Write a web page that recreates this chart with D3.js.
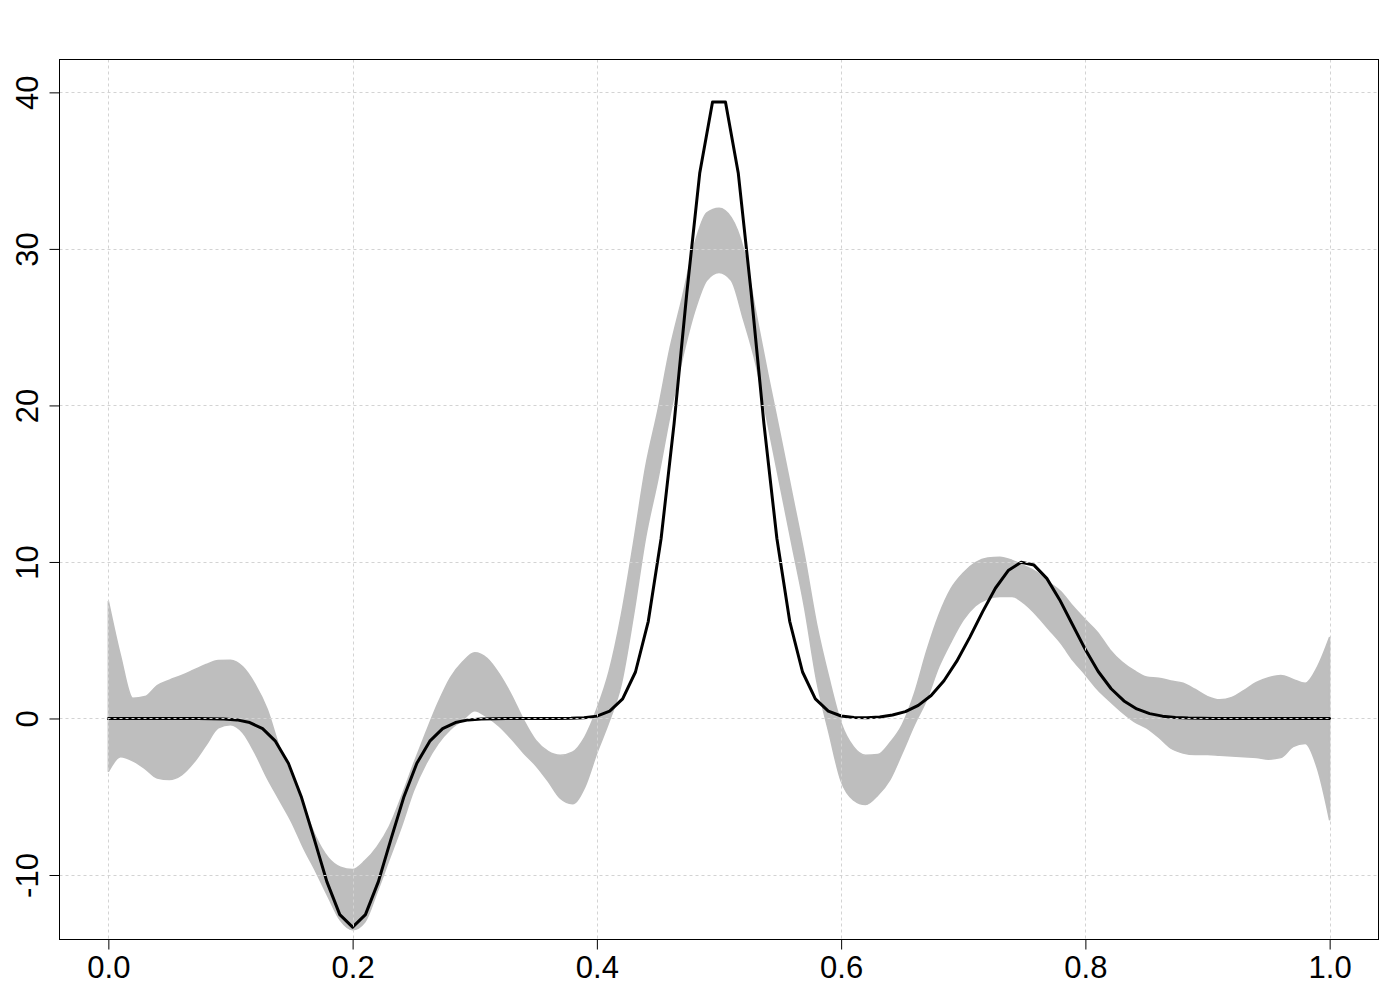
<!DOCTYPE html>
<html>
<head>
<meta charset="utf-8">
<script src="https://cdn.jsdelivr.net/npm/d3@7"></script>
<style>
  html, body { margin: 0; padding: 0; background: #fff; }
  svg { display: block; }
  text { font-family: "Liberation Sans", Arial, sans-serif; }
</style>
</head>
<body>
<svg id="chart" width="1400" height="1000"></svg>
<script>
// ---- Data ----
// true function, sampled at 96 points
const trueX = [0,0.0105,0.0211,0.0316,0.0421,0.0526,0.0632,0.0737,0.0842,0.0947,
  0.1053,0.1158,0.1263,0.1368,0.1474,0.1579,0.1684,0.1789,0.1895,0.2,
  0.2105,0.2211,0.2316,0.2421,0.2526,0.2632,0.2737,0.2842,0.2947,0.3053,
  0.3158,0.3263,0.3368,0.3474,0.3579,0.3684,0.3789,0.3895,0.4,0.4105,
  0.4211,0.4316,0.4421,0.4526,0.4632,0.4737,0.4842,0.4947,0.5053,0.5158,
  0.5263,0.5368,0.5474,0.5579,0.5684,0.5789,0.5895,0.6,0.6105,0.6211,
  0.6316,0.6421,0.6526,0.6632,0.6737,0.6842,0.6947,0.7053,0.7158,0.7263,
  0.7368,0.7474,0.7579,0.7684,0.7789,0.7895,0.8,0.8105,0.8211,0.8316,
  0.8421,0.8526,0.8632,0.8737,0.8842,0.8947,0.9053,0.9158,0.9263,0.9368,
  0.9474,0.9579,0.9684,0.9789,0.9895,1];
const trueY = [0,0,0,0,0,0,0,0,-0.01,-0.03,
  -0.09,-0.26,-0.65,-1.45,-2.86,-4.98,-7.66,-10.42,-12.53,-13.33,
  -12.53,-10.42,-7.66,-4.98,-2.86,-1.45,-0.65,-0.26,-0.09,-0.03,
  -0.01,0,0,0,0,0,0.01,0.05,0.15,0.47,
  1.25,2.97,6.21,11.50,18.82,27.23,34.83,39.39,39.39,34.83,
  27.23,18.82,11.50,6.21,2.97,1.25,0.47,0.16,0.06,0.05,
  0.10,0.22,0.44,0.84,1.47,2.41,3.66,5.18,6.81,8.32,
  9.45,9.98,9.80,8.95,7.59,5.99,4.40,3.00,1.90,1.12,
  0.61,0.31,0.15,0.07,0.03,0.01,0,0,0,0,
  0,0,0,0,0,0];

// envelope of the simulated estimates (grey curves)
const bandX = [0,0.01,0.02,0.03,0.04,0.05,0.06,0.07,0.08,0.09,
  0.10,0.11,0.12,0.13,0.14,0.15,0.16,0.17,0.18,0.19,
  0.20,0.21,0.22,0.23,0.24,0.25,0.26,0.27,0.28,0.29,
  0.30,0.31,0.32,0.33,0.34,0.35,0.36,0.37,0.38,0.39,
  0.40,0.41,0.42,0.43,0.44,0.45,0.46,0.47,0.48,0.49,
  0.50,0.51,0.52,0.53,0.54,0.55,0.56,0.57,0.58,0.59,
  0.60,0.61,0.62,0.63,0.64,0.65,0.66,0.67,0.68,0.69,
  0.70,0.71,0.72,0.73,0.74,0.75,0.76,0.77,0.78,0.79,
  0.80,0.81,0.82,0.83,0.84,0.85,0.86,0.87,0.88,0.89,
  0.90,0.91,0.92,0.93,0.94,0.95,0.96,0.97,0.98,0.99,1.00];
const bandHi = [7.5,4.0,1.3,1.4,2.1,2.45,2.75,3.1,3.45,3.7,
  3.72,3.3,2.2,0.6,-1.8,-3.7,-5.6,-7.6,-8.9,-9.5,
  -9.65,-9.1,-8.2,-6.9,-5.0,-2.9,-0.9,1.0,2.6,3.6,
  4.2,3.85,2.85,1.5,-0.1,-1.4,-2.1,-2.35,-2.15,-1.2,
  0.6,3.0,6.6,11.2,16.1,19.7,23.7,26.9,30.3,32.3,
  32.6,32.0,30.0,26.0,22.0,18.2,14.3,10.4,6.0,2.6,
  -0.3,-1.8,-2.35,-2.3,-1.55,-0.4,1.6,4.3,6.6,8.3,
  9.3,9.95,10.25,10.3,10.1,9.75,9.35,8.7,8.1,7.15,
  6.3,5.5,4.4,3.6,3.05,2.65,2.57,2.4,2.25,1.85,
  1.4,1.2,1.35,1.8,2.3,2.6,2.75,2.5,2.25,3.3,5.2];
const bandLo = [-3.4,-2.45,-2.7,-3.2,-3.8,-3.9,-3.6,-2.8,-1.7,-0.6,
  -0.4,-0.9,-2.2,-3.8,-5.2,-6.6,-8.3,-9.8,-11.4,-12.9,
  -13.5,-13.0,-11.1,-9.0,-6.9,-4.6,-2.9,-1.6,-0.7,-0.1,
  0.5,0.1,-0.5,-1.3,-2.2,-3.0,-4.0,-5.1,-5.45,-4.4,
  -2.2,-0.2,2.2,6.6,11.6,15.3,19.4,23.0,26.0,28.0,
  28.5,28.0,25.5,22.7,18.8,14.9,11.0,7.1,2.4,-0.9,
  -4.0,-5.2,-5.5,-4.9,-3.9,-2.2,-0.4,1.2,3.3,4.9,
  6.3,7.2,7.65,7.8,7.8,7.35,6.6,5.7,4.8,3.7,
  2.8,1.85,1.1,0.4,-0.2,-0.6,-1.2,-1.9,-2.2,-2.3,
  -2.3,-2.35,-2.4,-2.45,-2.5,-2.6,-2.5,-1.8,-1.6,-3.2,-6.5];

const xTicks = [0, 0.2, 0.4, 0.6, 0.8, 1.0];
const xTickLabels = ["0.0", "0.2", "0.4", "0.6", "0.8", "1.0"];
const yTicks = [-10, 0, 10, 20, 30, 40];
const yTickLabels = ["-10", "0", "10", "20", "30", "40"];

// ---- Layout ----
const svg = d3.select("#chart");
const pL = 59.5, pR = 1378.5, pT = 59.5, pB = 939.5;
const x = d3.scaleLinear().domain([-0.04, 1.04]).range([pL, pR]);
const y = d3.scaleLinear().domain([-14.12, 42.1]).range([pB, pT]);

const band = bandX.map((v, i) => ({ x: v, lo: bandLo[i], hi: bandHi[i] }));
const truth = trueX.map((v, i) => ({ x: v, y: trueY[i] }));

// grey band
svg.append("path")
  .datum(band)
  .attr("d", d3.area().x(d => x(d.x)).y0(d => y(d.lo)).y1(d => y(d.hi)).curve(d3.curveMonotoneX))
  .attr("fill", "#BEBEBE")
  .attr("stroke", "#BEBEBE")
  .attr("stroke-width", 1.5);

// true curve
svg.append("path")
  .datum(truth)
  .attr("d", d3.line().x(d => x(d.x)).y(d => y(d.y)))
  .attr("fill", "none")
  .attr("stroke", "#000")
  .attr("stroke-width", 3)
  .attr("stroke-linejoin", "round")
  .attr("stroke-linecap", "round");

// grid (drawn on top)
const grid = svg.append("g");
grid.selectAll("line.v").data(xTicks).join("line")
  .attr("class", "v")
  .attr("x1", d => Math.round(x(d)) + 0.5).attr("x2", d => Math.round(x(d)) + 0.5)
  .attr("y1", pT).attr("y2", pB)
  .attr("stroke", "#D3D3D3").attr("stroke-width", 1).attr("stroke-dasharray", "3,3");
grid.selectAll("line.h").data(yTicks).join("line")
  .attr("class", "h")
  .attr("y1", d => Math.round(y(d)) + 0.5).attr("y2", d => Math.round(y(d)) + 0.5)
  .attr("x1", pL).attr("x2", pR)
  .attr("stroke", "#D3D3D3").attr("stroke-width", 1).attr("stroke-dasharray", "3,3");

// box
svg.append("rect")
  .attr("x", pL).attr("y", pT)
  .attr("width", pR - pL).attr("height", pB - pT)
  .attr("fill", "none").attr("stroke", "#000").attr("stroke-width", 1);

// bottom axis
const xAxis = d3.axisBottom(x).tickValues(xTicks)
  .tickFormat((d, i) => xTickLabels[i]).tickSize(10).tickPadding(6);
const gx = svg.append("g").attr("transform", `translate(0,${pB})`).call(xAxis);
gx.select(".domain").attr("d", `M${x(0)},0H${x(1)}`).attr("stroke", "#000");
gx.selectAll("text").attr("font-size", 31).attr("fill", "#000")
  .attr("font-family", "Liberation Sans, Arial, sans-serif");

// left axis
const yAxis = d3.axisLeft(y).tickValues(yTicks)
  .tickFormat((d, i) => yTickLabels[i]).tickSize(10).tickPadding(6);
const gy = svg.append("g").attr("transform", `translate(${pL},0)`).call(yAxis);
gy.select(".domain").attr("d", `M0,${y(-10)}V${y(40)}`).attr("stroke", "#000");
gy.selectAll("text")
  .attr("font-size", 31).attr("fill", "#000")
  .attr("font-family", "Liberation Sans, Arial, sans-serif")
  .attr("text-anchor", "middle")
  .attr("x", 0).attr("dy", 0)
  .attr("transform", "translate(-22,0) rotate(-90)");
</script>
</body>
</html>
